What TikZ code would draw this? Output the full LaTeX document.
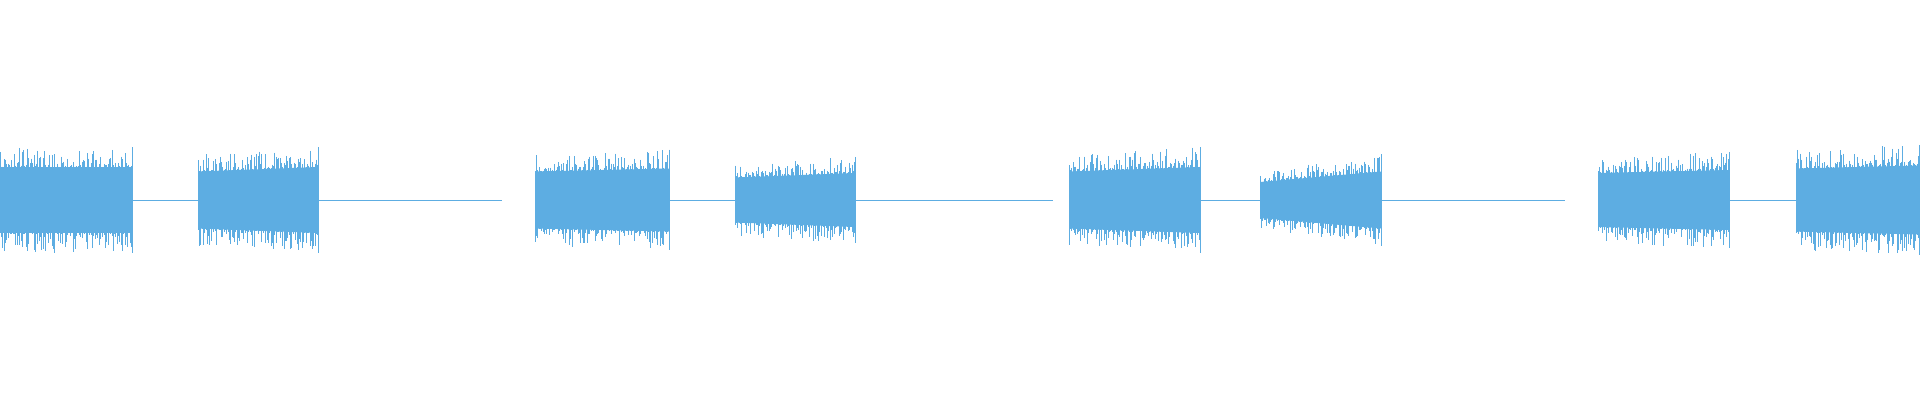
\documentclass[tikz,border=0pt]{standalone}
\definecolor{wave}{RGB}{93,173,226}
\newcommand{\burst}[4]{%
  \fill[wave] (#1,{200-#3*0.75}) -- (#2,{200-#4*0.75}) -- (#2,{200+#4*0.75}) -- (#1,{200+#3*0.75}) -- cycle;
  \pgfmathtruncatemacro{\nn}{(#2-#1)/1.3}%
  \foreach \i in {0,...,\nn}{%
    \pgfmathsetmacro{\x}{#1+1.3*\i}%
    \pgfmathsetmacro{\t}{(\x-#1)/(#2-#1)}%
    \pgfmathsetmacro{\a}{#3+(#4-#3)*\t}%
    \pgfmathsetmacro{\u}{\a*(0.75+0.45*rnd^2)}%
    \pgfmathsetmacro{\d}{\a*(0.75+0.45*rnd^2)}%
    \draw[wave,line width=0.5pt] (\x,{200-\u}) -- (\x,{200+\d});
  }%
  \draw[wave,line width=0.8pt] (#2,{200-#4*1.2}) -- (#2,{200+#4*1.2});
}
\newcommand{\quietline}[2]{\draw[wave,line width=0.8pt] (#1,200) -- (#2,200);}
\begin{document}
\begin{tikzpicture}[x=1pt,y=-1pt]
\pgfmathsetseed{7}
\useasboundingbox (0,0) rectangle (1920,400);
\quietline{132}{198}\quietline{318}{502}\quietline{669}{735}\quietline{855}{1053}
\quietline{1200}{1260}\quietline{1381}{1565}\quietline{1729}{1796}
\burst{0}{132}{44}{44}
\burst{198}{318}{38}{44}
\burst{535}{669}{38}{42}
\burst{735}{855}{30}{36}
\burst{1069}{1200}{38}{44}
\burst{1260}{1381}{24}{38}
\burst{1598}{1729}{36}{40}
\burst{1796}{1919}{42}{46}
\end{tikzpicture}
\end{document}
